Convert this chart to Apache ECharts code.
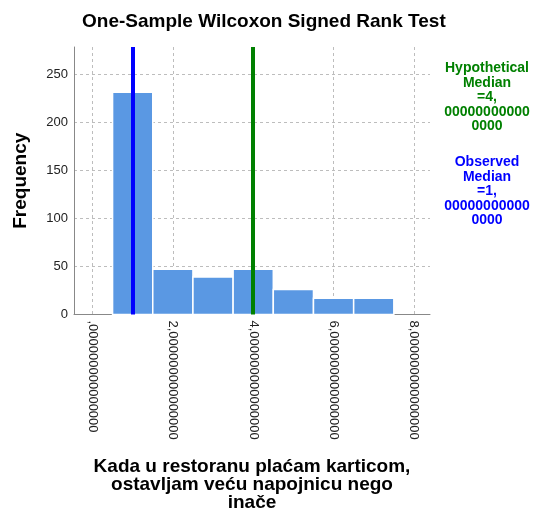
<!DOCTYPE html>
<html>
<head>
<meta charset="utf-8">
<script src="https://cdn.jsdelivr.net/npm/echarts@6/dist/echarts.min.js"></script>
<style>html,body{margin:0;padding:0;background:#fff}#c{width:534px;height:517px}</style>
</head>
<body>
<div id="c"></div>
<script>
// Data
const binCenters = [1, 2, 3, 4, 5, 6, 7];
const frequencies = [231, 47, 39, 47, 26, 17, 17];
const binWidth = 1;
const hypotheticalMedian = 4;
const observedMedian = 1;
const xTickValues = [0, 2, 4, 6, 8];
const decimalSuffix = ',000000000000000';
const titleText = 'One-Sample Wilcoxon Signed Rank Test';
const xAxisTitle = 'Kada u restoranu plaćam karticom,\nostavljam veću napojnicu nego\ninače';
const yAxisTitle = 'Frequency';
const hypoLabel = 'Hypothetical\nMedian\n=4,\n00000000000\n0000';
const obsLabel = 'Observed\nMedian\n=1,\n00000000000\n0000';

const histData = binCenters.map((c, i) => [c, frequencies[i]]);
const FONT = 'Liberation Sans, Arial, sans-serif';

const chart = echarts.init(document.getElementById('c'), null, {renderer: 'canvas'});
chart.setOption({
  animation: false,
  backgroundColor: '#fff',
  textStyle: {fontFamily: FONT},
  title: {
    text: titleText,
    left: 82, top: 12, padding: 0,
    textStyle: {fontFamily: FONT, fontSize: 19, fontWeight: 'bold', color: '#000'}
  },
  grid: {left: 74, top: 47, right: 104, bottom: 199, containLabel: false},
  xAxis: {
    type: 'value', min: -0.46, max: 8.4, minInterval: 2, maxInterval: 2,
    name: xAxisTitle, nameLocation: 'middle', nameGap: 143,
    nameTextStyle: {fontFamily: FONT, fontSize: 19, fontWeight: 'bold', color: '#000', lineHeight: 18},
    axisLine: {show: true, onZero: false, lineStyle: {color: '#888', width: 1}},
    axisTick: {show: false},
    axisLabel: {
      rotate: -90, fontSize: 13, color: '#222', margin: 6, fontFamily: FONT,
      showMinLabel: false, showMaxLabel: false,
      formatter: v => xTickValues.indexOf(v) >= 0 ? (v === 0 ? decimalSuffix : v + decimalSuffix) : ''
    },
    splitLine: {show: true, showMinLine: false, showMaxLine: false, lineStyle: {color: '#bdbdbd', type: [3, 3], width: 1}}
  },
  yAxis: {
    type: 'value', min: 0, max: 278, interval: 50,
    name: yAxisTitle, nameLocation: 'middle', nameGap: 44, nameRotate: 90,
    nameTextStyle: {fontFamily: FONT, fontSize: 19, fontWeight: 'bold', color: '#000'},
    axisLine: {show: true, onZero: false, lineStyle: {color: '#888', width: 1}},
    axisTick: {show: false},
    axisLabel: {fontSize: 13, color: '#222', margin: 6, fontFamily: FONT, showMaxLabel: false,
      formatter: v => (v % 50 === 0 ? String(v) : '')},
    splitLine: {show: true, showMinLine: false, showMaxLine: false, lineStyle: {color: '#bdbdbd', type: [3, 3], width: 1}}
  },
  series: [
    {
      type: 'custom',
      data: histData,
      renderItem: function (params, api) {
        const c = api.value(0), f = api.value(1);
        const p0 = api.coord([c - binWidth / 2, f]);
        const p1 = api.coord([c + binWidth / 2, 0]);
        return {
          type: 'rect',
          shape: {x: p0[0], y: p0[1], width: p1[0] - p0[0], height: p1[1] - p0[1]},
          style: {fill: '#5a98e3', stroke: '#ffffff', lineWidth: 1.5}
        };
      },
      encode: {x: 0, y: 1},
      z: 2,
      markLine: {
        silent: true, symbol: 'none', animation: false,
        label: {show: false},
        data: [
          {xAxis: hypotheticalMedian, lineStyle: {color: '#008000', width: 4, type: 'solid'}},
          {xAxis: observedMedian, lineStyle: {color: '#0000ff', width: 4, type: 'solid'}}
        ],
        z: 5
      }
    }
  ],
  graphic: [
    {type: 'text', x: 487, y: 61, style: {text: hypoLabel, textAlign: 'center', fill: '#008000',
      font: 'bold 14px ' + FONT, lineHeight: 14.5}},
    {type: 'text', x: 487, y: 155, style: {text: obsLabel, textAlign: 'center', fill: '#0000ff',
      font: 'bold 14px ' + FONT, lineHeight: 14.5}}
  ]
});
</script>
</body>
</html>
